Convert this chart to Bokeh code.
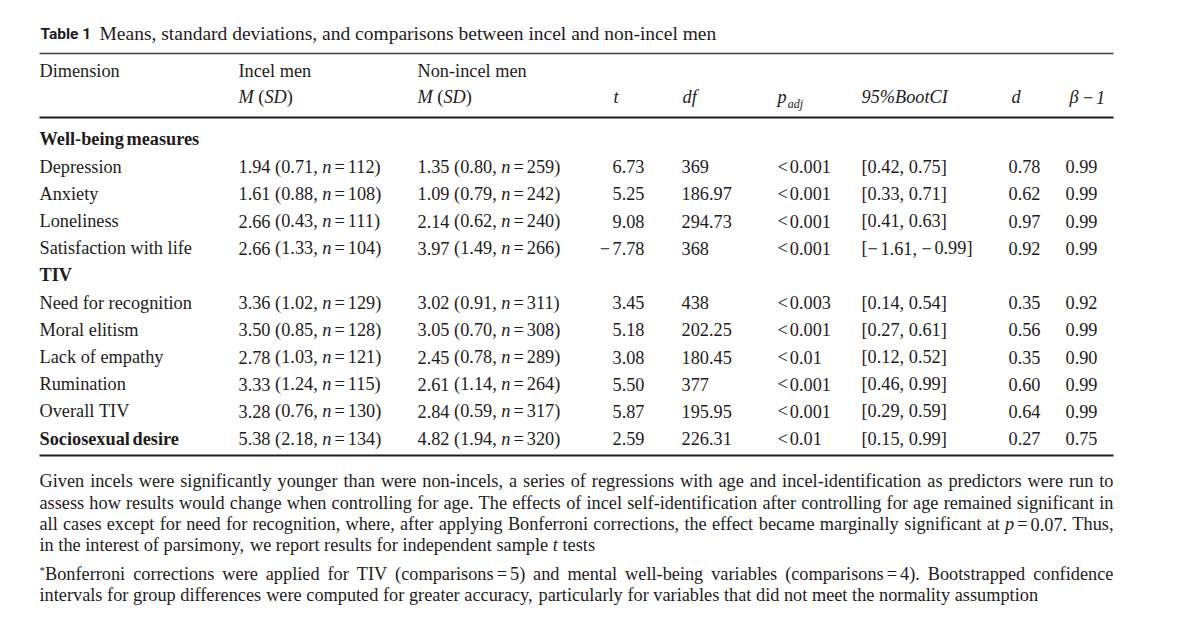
import re
from bokeh.plotting import figure
from bokeh.models import Range1d
from bokeh.embed import file_html
from bokeh.resources import INLINE
from bokeh.core.properties import value

# ---------------- data ----------------
title_label = "Table 1"
title_text = "Means, standard deviations, and comparisons between incel and non-incel men"

sections = ["Well-being measures", "TIV"]
dimensions = ["Depression", "Anxiety", "Loneliness", "Satisfaction with life",
              "Need for recognition", "Moral elitism", "Lack of empathy", "Rumination",
              "Overall TIV", "Sociosexual desire"]
dim_section = [0, 0, 0, 0, 1, 1, 1, 1, 1, 2]   # 2 = stand-alone (bold) row

incel_m = [1.94, 1.61, 2.66, 2.66, 3.36, 3.50, 2.78, 3.33, 3.28, 5.38]
incel_sd = [0.71, 0.88, 0.43, 1.33, 1.02, 0.85, 1.03, 1.24, 0.76, 2.18]
incel_n = [112, 108, 111, 104, 129, 128, 121, 115, 130, 134]
non_m = [1.35, 1.09, 2.14, 3.97, 3.02, 3.05, 2.45, 2.61, 2.84, 4.82]
non_sd = [0.80, 0.79, 0.62, 1.49, 0.91, 0.70, 0.78, 1.14, 0.59, 1.94]
non_n = [259, 242, 240, 266, 311, 308, 289, 264, 317, 320]
t_vals = [6.73, 5.25, 9.08, -7.78, 3.45, 5.18, 3.08, 5.50, 5.87, 2.59]
df_vals = ["369", "186.97", "294.73", "368", "438", "202.25", "180.45", "377", "195.95", "226.31"]
p_adj = ["<0.001", "<0.001", "<0.001", "<0.001", "<0.003", "<0.001", "<0.01", "<0.001", "<0.001", "<0.01"]
ci_low = [0.42, 0.33, 0.41, -1.61, 0.14, 0.27, 0.12, 0.46, 0.29, 0.15]
ci_high = [0.75, 0.71, 0.63, -0.99, 0.54, 0.61, 0.52, 0.99, 0.59, 0.99]
d_vals = [0.78, 0.62, 0.97, 0.92, 0.35, 0.56, 0.35, 0.60, 0.64, 0.27]
power_vals = [0.99, 0.99, 0.99, 0.99, 0.92, 0.99, 0.90, 0.99, 0.99, 0.75]

note_lines = [
    "Given incels were significantly younger than were non-incels, a series of regressions with age and incel-identification as predictors were run to",
    "assess how results would change when controlling for age. The effects of incel self-identification after controlling for age remained significant in",
    "all cases except for need for recognition, where, after applying Bonferroni corrections, the effect became marginally significant at _p_=0.07. Thus,",
    "in the interest of parsimony, we report results for independent sample _t_ tests",
]
foot_lines = [
    "^*^Bonferroni corrections were applied for TIV (comparisons=5) and mental well-being variables (comparisons=4). Bootstrapped confidence",
    "intervals for group differences were computed for greater accuracy, particularly for variables that did not meet the normality assumption",
]

# ---------------- styling / layout ----------------
W, H = 1184, 613
INK = "#1f1b1c"
SERIF = "Liberation Serif"
FS = 18.3
LEFT, RIGHT = 39, 1113
BASE_SHIFT = -0.33   # em; compensates where the svg backend puts the alphabetic baseline

p = figure(width=W, height=H, x_range=Range1d(0, W), y_range=Range1d(H, 0),
           output_backend="svg", toolbar_location=None,
           x_axis_location=None, y_axis_location=None, min_border=0)
p.grid.visible = False
p.outline_line_color = None
p.background_fill_color = "white"
p.border_fill_color = "white"

# Times metrics (1/1000 em)
ROMAN = {' ': 250, '!': 333, '%': 833, '(': 333, ')': 333, '*': 500, '+': 564, ',': 250,
         '-': 333, '.': 250, '/': 278, ':': 278, ';': 278, '<': 564, '=': 564, '>': 564,
         '[': 333, ']': 333, '\u2212': 564, '\u03b2': 500}
ROMAN.update({d: 500 for d in "0123456789"})
ROMAN.update(dict(zip("ABCDEFGHIJKLMNOPQRSTUVWXYZ",
                      [722, 667, 667, 722, 611, 556, 722, 722, 333, 389, 722, 611, 889, 722, 722,
                       556, 722, 667, 556, 611, 722, 722, 944, 722, 722, 611])))
ROMAN.update(dict(zip("abcdefghijklmnopqrstuvwxyz",
                      [444, 500, 444, 500, 444, 333, 500, 500, 278, 278, 500, 278, 778, 500, 500,
                       500, 500, 333, 389, 278, 500, 500, 722, 500, 500, 444])))
ITALIC = dict(ROMAN)
ITALIC.update(dict(zip("ABCDEFGHIJKLMNOPQRSTUVWXYZ",
                       [611, 611, 667, 722, 611, 611, 722, 722, 333, 444, 667, 556, 833, 667, 722,
                        611, 722, 611, 500, 556, 722, 611, 833, 611, 556, 556])))
ITALIC.update(dict(zip("abcdefghijklmnopqrstuvwxyz",
                       [500, 500, 444, 500, 444, 278, 500, 500, 278, 278, 444, 278, 722, 500, 500,
                        500, 500, 389, 389, 278, 500, 444, 667, 444, 444, 389])))
ITALIC['='] = 675

STYLE = {  # name: (font_style, size factor, baseline shift, metrics)
    "r": ("normal", 1.0, 0, ROMAN),
    "i": ("italic", 1.0, 0, ITALIC),
    "b": ("bold", 1.0, 0, ROMAN),
    "sub": ("italic", 0.66, 4, ITALIC),
    "sup": ("normal", 0.6, -7, ROMAN),
}
GAP_EQ, GAP_MINUS = 3.0, 2.5

groups = {}


def width(text, style="r", size=FS):
    fs, k, _, met = STYLE[style]
    return sum(met.get(c, 500) for c in text) * size * k / 1000


def add(x, y, text, style="r", size=FS, font=SERIF):
    fs, k, dy, _ = STYLE[style]
    sz = round(size * k, 2)
    key = (font, fs, sz)
    g = groups.setdefault(key, {"x": [], "y": [], "text": []})
    g["x"].append(x)
    g["y"].append(y + dy + BASE_SHIFT * sz)
    g["text"].append(text)


def expand(parts, size=FS):
    """split runs so that spaces become advances and '=' / minus get thin gaps"""
    out = []
    for t, s in parts:
        if isinstance(t, (int, float)):
            out.append((t, s))
            continue
        for tok in re.split(r'(=|\u2212| )', t):
            if tok == "":
                continue
            if tok == " ":
                out.append((width(" ", s, size), s))
            elif tok == "=":
                out += [(GAP_EQ, s), ("=", s), (GAP_EQ, s)]
            elif tok == "\u2212":
                out += [("\u2212", s), (GAP_MINUS, s)]
            else:
                out.append((tok, s))
    return out


def measure(parts, size=FS):
    return sum(t if isinstance(t, (int, float)) else width(t, s, size) for t, s in expand(parts, size))


def put(x, y, parts, align="left", size=FS):
    if align == "right":
        x -= measure(parts, size)
    for t, s in expand(parts, size):
        if isinstance(t, (int, float)):
            x += t
        else:
            add(x, y, t, s, size)
            x += width(t, s, size)
    return x


def parse_word(word):
    parts = []
    for seg in re.split(r'(_[^_]+_|\^[^^]+\^)', word):
        if not seg:
            continue
        if seg.startswith('_'):
            parts.append((seg[1:-1], "i"))
        elif seg.startswith('^'):
            parts.append((seg[1:-1], "sup"))
        else:
            parts.append((seg, "r"))
    return parts


def text_line(y, markup, justify):
    words = [parse_word(w) for w in markup.split(' ')]
    widths = [measure(w) for w in words]
    if justify and len(words) > 1:
        gap = (RIGHT - LEFT - sum(widths)) / (len(words) - 1)
    else:
        gap = width(' ')
    x = LEFT
    for w, ww in zip(words, widths):
        put(x, y, w)
        x += ww + gap


# ---------------- title ----------------
add(40, 39, title_label, "b", 15.5, "Roboto")
add(99, 39, title_text, "r", 19.5)

# ---------------- rules ----------------
p.segment(x0=[LEFT, LEFT, LEFT], x1=[RIGHT, RIGHT, RIGHT], y0=[53, 117, 455], y1=[53, 117, 455],
          line_color=["#3a3a3a", "#1e1e1e", "#1e1e1e"], line_width=[1.6, 2.2, 2.2])

# ---------------- header ----------------
COL = {"dim": LEFT, "inc": 238, "non": 417, "t": 612, "df": 681, "p": 777, "ci": 861, "d": 1008, "pw": 1065}
H1, H2 = 77, 103
put(COL["dim"], H1, [("Dimension", "r")])
put(COL["inc"], H1, [("Incel men", "r")])
put(COL["non"], H1, [("Non-incel men", "r")])
for c in ("inc", "non"):
    put(COL[c], H2, [("M", "i"), (" (", "r"), ("SD", "i"), (")", "r")])
put(COL["t"] + 1, H2, [("t", "i")])
put(COL["df"] + 1, H2, [("df", "i")])
xp = put(COL["p"], H2, [("p", "i")])
add(xp + 1, H2, "adj", "sub")
put(COL["ci"], H2, [("95%BootCI", "i")])
put(COL["d"] + 3, H2, [("d", "i")])
put(COL["pw"] + 4, H2, [("\u03b2", "i"), (3.0, "i"), ("\u2212", "i"), (1.5, "i"), ("1", "i")])

# ---------------- body ----------------
ROW0, ROWH = 145, 27.2


def fmt(v):
    return ("\u2212" if v < 0 else "") + f"{abs(v):.2f}"


t_right = COL["t"] + width("6.73")
row = 0
cur_sec = -1
for i, dim in enumerate(dimensions):
    sec = dim_section[i]
    if sec != cur_sec and sec < len(sections):
        put(COL["dim"], ROW0 + row * ROWH, [(sections[sec], "b")])
        row += 1
    cur_sec = sec
    y = ROW0 + row * ROWH
    put(COL["dim"], y, [(dim, "b" if sec == 2 else "r")])
    put(COL["inc"], y, [(f"{incel_m[i]:.2f} ({incel_sd[i]:.2f},", "r"), (" ", "r"), ("n", "i"), (f"={incel_n[i]})", "r")])
    put(COL["non"], y, [(f"{non_m[i]:.2f} ({non_sd[i]:.2f},", "r"), (" ", "r"), ("n", "i"), (f"={non_n[i]})", "r")])
    put(t_right, y, [(fmt(t_vals[i]), "r")], align="right")
    put(COL["df"], y, [(df_vals[i], "r")])
    put(COL["p"], y, [("<", "r"), (2.0, "r"), (p_adj[i][1:], "r")])
    put(COL["ci"], y, [(f"[{fmt(ci_low[i])},", "r"), (" ", "r"), (f"{fmt(ci_high[i])}]", "r")])
    put(COL["d"], y, [(f"{d_vals[i]:.2f}", "r")])
    put(COL["pw"], y, [(f"{power_vals[i]:.2f}", "r")])
    row += 1

# ---------------- notes ----------------
note_y = [487, 509, 530, 551]
for k, (yy, ln) in enumerate(zip(note_y, note_lines)):
    text_line(yy, ln, justify=(k < len(note_lines) - 1))
foot_y = [580, 601]
for k, (yy, ln) in enumerate(zip(foot_y, foot_lines)):
    text_line(yy, ln, justify=(k < len(foot_lines) - 1))

# ---------------- draw texts ----------------
for (font, fstyle, size), g in groups.items():
    p.text(x=g["x"], y=g["y"], text=g["text"], text_font=value(font), text_font_style=fstyle,
           text_font_size=f"{size}px", text_color=INK, text_baseline="alphabetic", text_align="left")

open("out.html", "w").write(file_html(p, INLINE))
